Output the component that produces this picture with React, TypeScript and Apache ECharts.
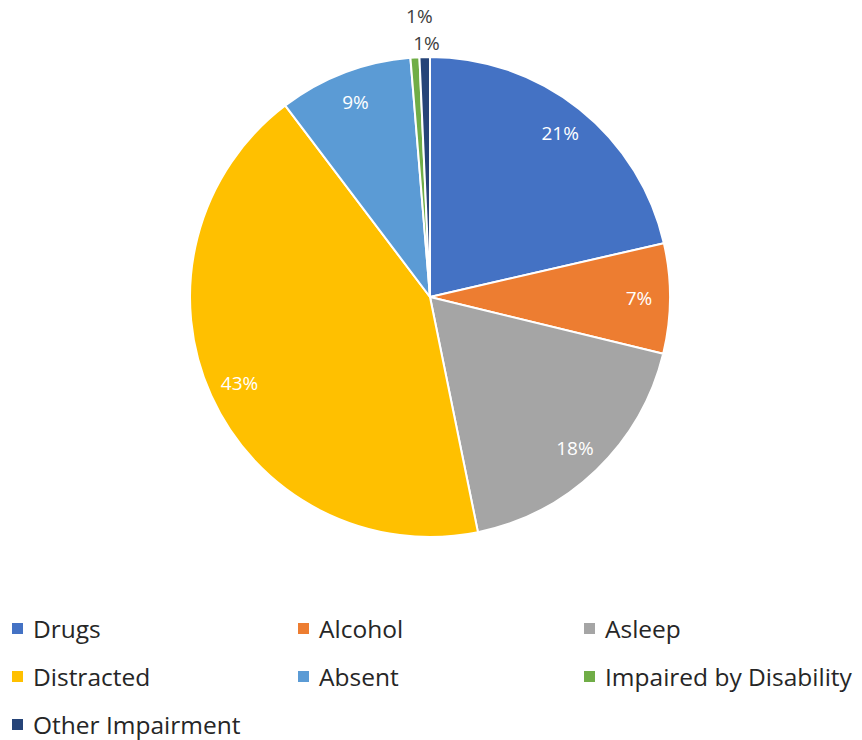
import React, { useEffect, useRef } from "react";
import * as echarts from "echarts";

const categories = ["Drugs", "Alcohol", "Asleep", "Distracted", "Absent", "Impaired by Disability", "Other Impairment"];
const values = [21.4, 7.4, 18.0, 42.9, 9.0, 0.6, 0.7];
const colors = ["#4472C4", "#ED7D31", "#A5A5A5", "#FFC000", "#5B9BD5", "#70AD47", "#264478"];
const legendRows = [
  ["Drugs", "Alcohol", "Asleep"],
  ["Distracted", "Absent", "Impaired by Disability"],
  ["Other Impairment"],
];
// leader distance and horizontal nudge of the outside labels for the tiny slices
const outsideLabelDistance = [0, 0, 0, 0, 0, 42, 14];
const outsideLabelNudge = [0, 0, 0, 0, 0, 12, 7];

const FONT = "'Open Sans', Lato, sans-serif";

export default function App() {
  const ref = useRef<HTMLDivElement>(null);
  useEffect(() => {
    document.body.style.margin = "0";
    const chart = echarts.init(ref.current!, undefined, { renderer: "svg" });
    const data = categories.map((name, i) => ({ name, value: values[i], itemStyle: { color: colors[i] } }));
    const labelData = categories.map((name, i) => {
      const small = values[i] < 2;
      return {
        name,
        value: values[i],
        label: small
          ? { position: "outside", color: "#404040" }
          : { position: "inside", color: "#ffffff" },
        labelLine: { show: false, length: outsideLabelDistance[i], length2: 0 },
      };
    });
    chart.setOption({
      animation: false,
      color: colors,
      legend: legendRows.map((row, r) => ({
        data: row,
        orient: "horizontal",
        left: 12,
        top: 616 + r * 48,
        padding: 0,
        itemWidth: 11,
        itemHeight: 11,
        itemGap: 14,
        icon: "rect",
        selectedMode: false,
        itemStyle: { borderWidth: 0 },
        textStyle: {
          fontFamily: FONT,
          fontSize: 24.5,
          color: "#262626",
          lineHeight: 24,
          width: 251,
          overflow: "none",
          padding: [0, 0, 0, 5],
        },
      })),
      series: [
        {
          type: "pie",
          center: [430, 297],
          radius: [0, 240],
          startAngle: 90,
          clockwise: true,
          data,
          label: { show: false },
          labelLine: { show: false },
          itemStyle: { borderColor: "#ffffff", borderWidth: 2 },
          emphasis: { disabled: true },
        },
        {
          type: "pie",
          center: [430, 297],
          radius: [172, 240],
          startAngle: 90,
          clockwise: true,
          silent: true,
          avoidLabelOverlap: false,
          percentPrecision: 0,
          data: labelData,
          itemStyle: { color: "rgba(0,0,0,0)" },
          label: {
            show: true,
            formatter: "{d}%",
            fontFamily: FONT,
            fontSize: 19,
          },
          labelLayout: (p: any) =>
            values[p.dataIndex] < 2 ? { align: "center", dx: outsideLabelNudge[p.dataIndex] } : {},
          emphasis: { disabled: true },
        },
      ],
    });
    return () => chart.dispose();
  }, []);
  return <div ref={ref} style={{ width: 862, height: 740 }} />;
}
